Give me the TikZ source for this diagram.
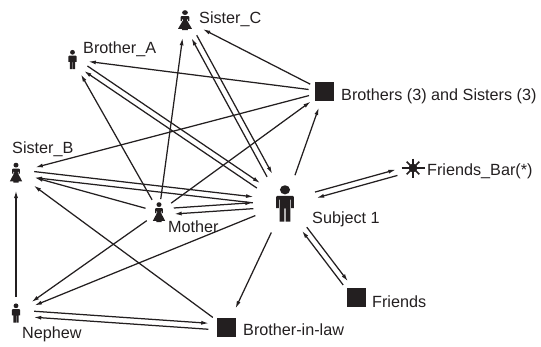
\documentclass[tikz,border=0pt]{standalone}
\usepackage{fontspec}
\setmainfont{Liberation Sans}
\usetikzlibrary{arrows.meta,calc}
\definecolor{ink}{HTML}{231F20}
\tikzset{
  pics/man/.style={code={
    \fill[ink] (0,-7.2) circle (2.4);
    \fill[ink] (-2.6,-2) -- (-2.9,-2) -- (-2.9,2.4) -- (-4.2,2.4) [rounded corners=1pt] -- (-4.2,-4) -- (4.2,-4) [sharp corners] -- (4.2,2.4) -- (2.9,2.4) -- (2.9,-2) -- (2.6,-2) -- (2.6,9.6) -- (0.25,9.6) -- (0.25,2.6) -- (-0.25,2.6) -- (-0.25,9.6) -- (-2.6,9.6) -- cycle;
  }},
  pics/woman/.style={code={
    \fill[ink] (0,-7.4) circle (2.4);
    \fill[ink] (-2.6,-1.4) -- (-2.6,1) -- (-3.6,1) [rounded corners=1pt] -- (-3.6,-4) -- (3.6,-4) [sharp corners] -- (3.6,1) -- (2.6,1) -- (2.6,-1.4) -- (1.5,0) -- (5.8,8.8) -- (2.4,8.8) -- (2.4,10) -- (-2.4,10) -- (-2.4,8.8) -- (-5.8,8.8) -- (-1.5,0) -- cycle;
  }},
  pics/burst/.style={code={
    \draw[ink,line width=1.8pt] (-11.5,0) -- (11.5,0);
    \draw[ink,line width=1.8pt] (0,-9.5) -- (0,9.5);
    \draw[ink,line width=1.6pt] (45:9) -- (225:9);
    \draw[ink,line width=1.6pt] (135:9) -- (315:9);
    \fill[ink] (0,0) circle (4.4);
  }}
}
\begin{document}
\begin{tikzpicture}[x=1pt,y=-1pt,
  arr/.style={-{Latex[length=7.5pt,width=4pt]},line width=1.25pt,ink},
  lbl/.style={anchor=base west,inner sep=0pt,text=ink,font=\fontsize{16.2}{19}\selectfont},
  box/.style={fill=ink,minimum size=19pt,inner sep=0pt}]
\useasboundingbox (0,0) rectangle (541,346);

\coordinate (sisterc) at (185,20);
\coordinate (brothera) at (72.5,59.5);
\coordinate (sisterb) at (16,172.5);
\coordinate (mother) at (159,212);
\coordinate (subject) at (285,203.5);
\coordinate (nephew) at (16,313);
\coordinate (friendsbar) at (413,168);
\node[box] (siblings) at (324.5,91.5) {};
\node[box] (inlaw) at (226.5,327.5) {};
\node[box] (friends) at (356.5,297.5) {};

\pic[xscale=1.2] at (sisterc) {woman};
\pic at (brothera) {man};
\pic[xscale=1.05] at (sisterb) {woman};
\pic[xscale=1.05] at (mother) {woman};
\pic[xscale=2.1,yscale=1.9] at (subject) {man};
\pic at (nephew) {man};
\pic at (friendsbar) {burst};

\node[lbl] (sistercl) at (199,23) {Sister\_C};
\node[lbl] (brotheral) at (83,53) {Brother\_A};
\node[lbl] (sisterbl) at (12,153) {Sister\_B};
\node[lbl] (siblingsl) at (341,100) {Brothers (3) and Sisters (3)};
\node[lbl] (friendsbarl) at (427,175) {Friends\_Bar(*)};
\node[lbl] (subjectl) at (312,223) {Subject 1};
\node[lbl] (motherl) at (168,232) {Mother};
\node[lbl] (friendsl) at (372,307) {Friends};
\node[lbl] (nephewl) at (22,338) {Nephew};
\node[lbl] (inlawl) at (243,335) {Brother-in-law};

\draw[arr] ($(siblings)!16pt!(sisterc)$) -- ($(sisterc)!20pt!(siblings)$);
\draw[arr] ($(siblings)!16pt!(brothera)$) -- ($(brothera)!16pt!(siblings)$);
\draw[arr] ($(siblings)!16pt!(sisterb)$) -- ($(sisterb)!20pt!(siblings)$);
\draw[arr] ($(mother)!15pt!(siblings)$) -- ($(siblings)!17pt!(mother)$);
\draw[arr] ($(subject)!30pt!(siblings)$) -- ($(siblings)!17pt!(subject)$);
\draw[arr] ($(mother)!13pt!(sisterc)$) -- ($(sisterc)!18pt!(mother)$);
\draw[arr] ($(mother)!14pt!(brothera)$) -- ($(brothera)!17pt!(mother)$);
\draw[arr] ($(mother)!14pt!(sisterb)$) -- ($(sisterb)!20pt!(mother)$);
\draw[arr] ($(mother)!15pt!(nephew)$) -- ($(nephew)!19pt!(mother)$);
\draw[arr] ($(subject)!32pt!(nephew)$) -- ($(nephew)!20pt!(subject)$);
\draw[arr] ($(subject)!32pt!(inlaw)$) -- ($(inlaw)!21pt!(subject)$);
\draw[arr] ($(inlaw)!17pt!(sisterb)$) -- ($(sisterb)!22pt!(inlaw)$);
\draw[arr] ($(nephew)!16pt!(sisterb)$) -- ($(sisterb)!18pt!(nephew)$);

\draw[arr] ($(sisterc)!19pt!(subject)!3pt!90:(subject)$) -- ($(subject)!32pt!(sisterc)!3pt!-90:(sisterc)$);
\draw[arr] ($(subject)!32pt!(sisterc)!3pt!90:(sisterc)$) -- ($(sisterc)!19pt!(subject)!3pt!-90:(subject)$);
\draw[arr] ($(brothera)!16pt!(subject)!3pt!90:(subject)$) -- ($(subject)!32pt!(brothera)!3pt!-90:(brothera)$);
\draw[arr] ($(subject)!32pt!(brothera)!3pt!90:(brothera)$) -- ($(brothera)!16pt!(subject)!3pt!-90:(subject)$);
\draw[arr] ($(sisterb)!18pt!(subject)!3pt!90:(subject)$) -- ($(subject)!32pt!(sisterb)!3pt!-90:(sisterb)$);
\draw[arr] ($(subject)!32pt!(sisterb)!3pt!90:(sisterb)$) -- ($(sisterb)!19pt!(subject)!3pt!-90:(subject)$);
\draw[arr] ($(mother)!15pt!(subject)!3pt!90:(subject)$) -- ($(subject)!32pt!(mother)!3pt!-90:(mother)$);
\draw[arr] ($(subject)!32pt!(mother)!3pt!90:(mother)$) -- ($(mother)!15pt!(subject)!3pt!-90:(subject)$);
\draw[arr] ($(nephew)!18pt!(inlaw)!3pt!90:(inlaw)$) -- ($(inlaw)!18pt!(nephew)!3pt!-90:(nephew)$);
\draw[arr] ($(inlaw)!18pt!(nephew)!3pt!90:(nephew)$) -- ($(nephew)!18pt!(inlaw)!3pt!-90:(inlaw)$);
\draw[arr] ($(subject)!32pt!(friendsbar)!3pt!90:(friendsbar)$) -- ($(friendsbar)!17pt!(subject)!3pt!-90:(subject)$);
\draw[arr] ($(friendsbar)!17pt!(subject)!3pt!90:(subject)$) -- ($(subject)!32pt!(friendsbar)!3pt!-90:(friendsbar)$);
\draw[arr] ($(subject)!32pt!(friends)!3pt!90:(friends)$) -- ($(friends)!18pt!(subject)!3pt!-90:(subject)$);
\draw[arr] ($(friends)!18pt!(subject)!3pt!90:(subject)$) -- ($(subject)!32pt!(friends)!3pt!-90:(friends)$);
\end{tikzpicture}
\end{document}
